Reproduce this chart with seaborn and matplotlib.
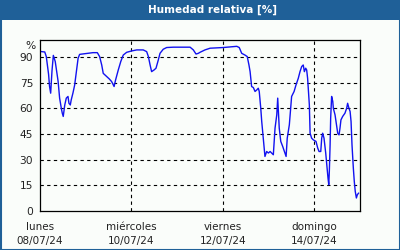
import matplotlib
matplotlib.use("Agg")
import matplotlib.pyplot as plt
import matplotlib.patches as mpatches
import seaborn as sns
import pandas as pd

# hours since Monday 08/07/24 00:00
hours = [0, 2.5, 3.3, 4.5, 5.0, 5.6, 6.3, 7.0, 8.0, 9.5, 10.3, 11.2, 11.7, 12.2, 13.0, 13.8,
         14.7, 15.2, 15.9, 16.4, 17.3, 18.2, 19.1, 20.0, 20.8, 23.5, 25.2, 27.8, 30.1, 31.3,
         32.4, 33.2, 35.0, 36.4, 37.6, 38.9, 39.7, 41.1, 42.4, 43.7, 45.5, 48.1, 50.8, 54.2,
         56.0, 56.9, 57.8, 58.6, 59.9, 60.9, 62.1, 63.0, 64.7, 66.5, 70.0, 78.8, 80.5, 81.9,
         83.1, 84.0, 86.6, 89.3, 96.2, 103.3, 104.6, 105.9, 107.6, 108.8, 109.7, 110.3, 111.1,
         112.0, 112.9, 113.8, 114.6, 115.1, 115.9, 116.4, 117.2, 118.1, 119.0, 119.9, 120.8,
         121.6, 122.5, 123.4, 124.3, 124.8, 125.6, 126.4, 127.4, 128.6, 129.2, 129.8, 130.9,
         131.6, 132.1, 133.4, 134.4, 135.6, 136.5, 137.4, 138.2, 138.8, 139.5, 140.0, 140.5,
         141.4, 141.8, 142.6, 143.5, 144.9, 145.8, 146.5, 147.4, 147.9, 148.4, 149.1, 150.0,
         150.8, 151.2, 151.6, 151.9, 152.3, 152.6, 153.1, 153.7, 154.0, 154.9, 155.8, 156.3,
         157.0, 157.5, 158.0, 158.9, 160.1, 161.0, 161.5, 162.2, 162.8, 163.3, 163.8, 164.5,
         165.0, 165.5, 166.1, 166.6, 167.3]
humidity = [93.3, 93.0, 90.3, 80.0, 73.0, 68.9, 82.0, 91.0, 87.4, 75.9, 66.0, 60.0, 57.2, 55.3,
            62.0, 66.0, 67.0, 63.0, 62.0, 65.0, 69.0, 73.7, 81.5, 89.3, 91.6, 92.0, 92.2, 92.6,
            92.6, 90.3, 85.4, 80.5, 78.6, 77.2, 75.7, 72.8, 76.7, 82.5, 87.4, 91.2, 92.8, 93.6,
            94.2, 94.2, 93.2, 90.3, 85.4, 81.5, 82.5, 83.5, 88.3, 92.2, 94.6, 95.6, 95.8, 95.8,
            94.2, 91.8, 92.2, 92.8, 94.2, 95.2, 95.6, 96.3, 95.6, 92.2, 91.2, 90.3, 85.4, 81.5,
            72.8, 72.2, 69.9, 70.8, 71.8, 69.9, 60.1, 52.4, 42.6, 31.9, 34.8, 33.9, 34.8, 33.9,
            32.9, 48.5, 56.2, 66.0, 48.5, 40.7, 37.8, 33.9, 31.9, 42.6, 50.4, 60.1, 67.0, 69.9,
            73.7, 77.6, 81.5, 84.5, 85.4, 81.5, 83.5, 82.5, 77.6, 62.1, 45.5, 42.6, 41.6, 40.7,
            36.8, 34.8, 34.8, 42.6, 45.5, 42.6, 33.9, 24.1, 19.3, 15.4, 23.2, 38.7, 54.3, 67.0,
            64.1, 60.1, 56.2, 49.4, 45.5, 44.5, 48.5, 53.3, 55.3, 57.2, 60.1, 63.0, 60.1, 58.2,
            52.4, 38.7, 25.1, 17.3, 11.5, 7.6, 9.5, 10.5]

x_ticks = [0, 48, 96, 144]
x_minor = [24, 72, 120, 168]
x_labels = ["lunes\n08/07/24", "miércoles\n10/07/24", "viernes\n12/07/24", "domingo\n14/07/24"]
y_ticks = [0, 15, 30, 45, 60, 75, 90]
title = "Humedad relativa [%]"

sns.set_style("white")
plt.rcParams['font.family'] = ['DejaVu Sans']

bg = "#fafdfa"
bar = "#1f6098"
fig = plt.figure(figsize=(4, 2.5), dpi=100, facecolor=bg)

# title bar and frame
fig.patches.append(mpatches.Rectangle((0, 230 / 250), 1, 20 / 250, transform=fig.transFigure,
                                      facecolor=bar, edgecolor="none", zorder=0))
fig.patches.append(mpatches.Rectangle((0.5 / 400, 0.5 / 250), 399 / 400, 249 / 250,
                                      transform=fig.transFigure, facecolor="none",
                                      edgecolor=bar, linewidth=1.5, zorder=5))
fig.text(213 / 400, 240 / 250, title, color="white", fontsize=7.5, fontweight="bold",
         ha="center", va="center")

ax = fig.add_axes([40 / 400, 39 / 250, 320 / 400, 171 / 250])
ax.set_facecolor(bg)
df = pd.DataFrame({"h": hours, "rh": humidity})
sns.lineplot(data=df, x="h", y="rh", ax=ax, color="#1212f0", linewidth=1.0)

ax.set_xlim(0, 168)
ax.set_ylim(0, 100)
ax.set_xticks(x_ticks)
ax.set_xticklabels(x_labels, fontsize=7.5, color="#222222", linespacing=1.5)
ax.set_xticks(x_minor, minor=True)
ax.set_yticks(y_ticks)
ax.set_yticklabels([str(v) for v in y_ticks], fontsize=7.7, color="#222222")
ax.set_xlabel("")
ax.set_ylabel("")
ax.tick_params(axis="x", which="major", length=0, pad=8)
ax.tick_params(axis="x", which="minor", direction="in", length=3, width=0.8, color="black")
ax.tick_params(axis="y", which="major", direction="out", length=2, width=0.8, pad=3, color="black")

for v in y_ticks[1:]:
    ax.axhline(v, color="black", linestyle=(0, (3, 3)), linewidth=0.8, zorder=1)
for v in x_ticks[1:]:
    ax.axvline(v, color="black", linestyle=(0, (3, 3)), linewidth=0.8, zorder=1)

for s in ax.spines.values():
    s.set_visible(True)
    s.set_color("black")
    s.set_linewidth(0.9)

ax.text(-0.015, 0.965, "%", transform=ax.transAxes, ha="right", va="center",
        fontsize=7.7, color="#222222")

fig.savefig("out.png", dpi=100, facecolor=bg)
